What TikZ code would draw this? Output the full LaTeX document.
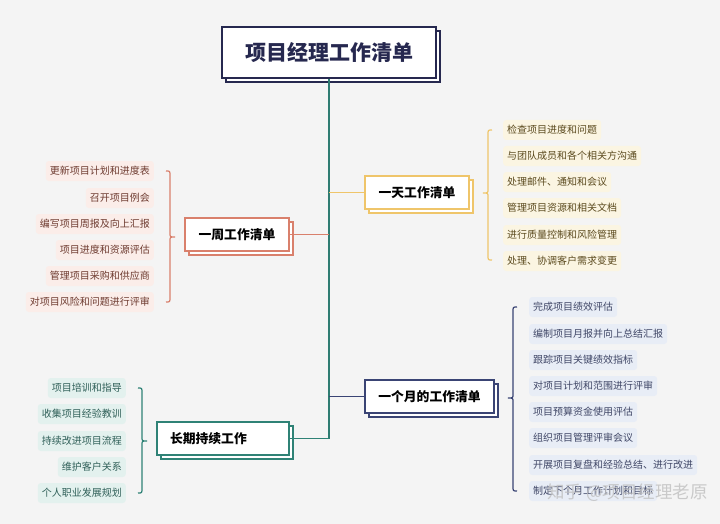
\documentclass[tikz,border=0pt]{standalone}
\usepackage{fontspec}
\setmainfont{Noto Sans CJK SC}
\usetikzlibrary{shadows}
\definecolor{bg}{HTML}{F4F4F4}
\definecolor{titlec}{HTML}{26284F}
\definecolor{trunkc}{HTML}{2F7C72}
\definecolor{goldc}{HTML}{EFC56A}
\definecolor{salmonc}{HTML}{D9806C}
\definecolor{navyc}{HTML}{3A4474}
\definecolor{tealc}{HTML}{2F8276}
\definecolor{dayfill}{HTML}{FBF5E2}
\definecolor{weekfill}{HTML}{FBEDE9}
\definecolor{monthfill}{HTML}{E8EDF6}
\definecolor{longfill}{HTML}{E3F1EE}
\definecolor{daytext}{HTML}{5B4A1E}
\definecolor{weektext}{HTML}{6E3B30}
\definecolor{monthtext}{HTML}{3F4666}
\definecolor{longtext}{HTML}{2F5F58}
\newcommand{\BraceL}[5]{%
 \draw[#1,line width=1.2pt] ({#2+9},#3) .. controls ({#2+5},#3) .. ({#2+5},{#3+5}) -- ({#2+5},{#4-4}) .. controls ({#2+5},#4) .. (#2,#4) .. controls ({#2+5},#4) .. ({#2+5},{#4+4}) -- ({#2+5},{#5-5}) .. controls ({#2+5},#5) .. ({#2+9},#5);}
\newcommand{\BraceR}[5]{%
 \draw[#1,line width=1.2pt] ({#2-9},#3) .. controls ({#2-5},#3) .. ({#2-5},{#3+5}) -- ({#2-5},{#4-4}) .. controls ({#2-5},#4) .. (#2,#4) .. controls ({#2-5},#4) .. ({#2-5},{#4+4}) -- ({#2-5},{#5-5}) .. controls ({#2-5},#5) .. ({#2-9},#5);}
\begin{document}
\begin{tikzpicture}[x=1pt,y=-1pt,
  titlebox/.style={draw=titlec,line width=1.8pt,fill=white,minimum width=214pt,minimum height=51pt,
    font=\fontsize{21}{24}\selectfont\bfseries,text=titlec,inner sep=0pt,
    copy shadow={shadow xshift=4pt,shadow yshift=-4pt}},
  catbox/.style={line width=1.4pt,minimum height=33pt,inner sep=0pt,
    font=\fontsize{12.8}{15}\selectfont\bfseries,text=black,
    copy shadow={shadow xshift=4pt,shadow yshift=-4pt}},
  item/.style={rounded corners=3pt,inner xsep=4pt,inner ysep=0pt,minimum height=20pt,
    font=\fontsize{10}{12}\selectfont},
  dayitem/.style={item,fill=dayfill,text=daytext,anchor=west},
  weekitem/.style={item,fill=weekfill,text=weektext,anchor=east},
  monthitem/.style={item,fill=monthfill,text=monthtext,anchor=west},
  longitem/.style={item,fill=longfill,text=longtext,anchor=east},
  branch/.style={line width=1.2pt}]
\fill[bg] (0,0) rectangle (720,524);
\useasboundingbox (0,0) rectangle (720,524);

% junctions
\coordinate (jday) at (329,192.5);
\coordinate (jweek) at (329,234.5);
\coordinate (jmonth) at (329,396.5);
\coordinate (jlong) at (329,438.5);

% title
\node[titlebox] (title) at (329,52.5) {项目经理工作清单};

% category boxes
\node[catbox,draw=goldc,fill=white,minimum width=104pt] (day) at (417,192.5) {一天工作清单};
\node[catbox,draw=salmonc,fill=white,minimum width=104pt] (week) at (237,234.5) {一周工作清单};
\node[catbox,draw=navyc,fill=white,minimum width=129pt] (month) at (429.5,396.5) {一个月的工作清单};
\node[catbox,draw=tealc,fill=white,minimum width=132pt,text width=106pt,align=left,inner xsep=13pt] (long) at (223,438.5) {长期持续工作};

% connectors
\draw[trunkc,line width=1.5pt] (title.south) -- (jlong);
\draw[branch,goldc] (jday) -- (day.west);
\draw[branch,salmonc] (jweek) -- (week.east);
\draw[branch,navyc] (jmonth) -- (month.west);
\draw[branch,tealc] (jlong) -- (long.east);

% braces
\BraceL{goldc}{483}{130}{193}{260}
\BraceR{salmonc}{175}{171}{237}{302}
\BraceL{navyc}{508}{307}{398}{491}
\BraceR{tealc}{147}{388}{441}{493}

% day items
\node[dayitem] (d1) at (503,130) {检查项目进度和问题};
\node[dayitem] (d2) at (503,156) {与团队成员和各个相关方沟通};
\node[dayitem] (d3) at (503,182) {处理邮件、通知和会议};
\node[dayitem] (d4) at (503,208) {管理项目资源和相关文档};
\node[dayitem] (d5) at (503,235) {进行质量控制和风险管理};
\node[dayitem] (d6) at (503,261) {处理、协调客户需求变更};

% week items
\node[weekitem] (w1) at (154,171) {更新项目计划和进度表};
\node[weekitem] (w2) at (154,198) {召开项目例会};
\node[weekitem] (w3) at (154,224) {编写项目周报及向上汇报};
\node[weekitem] (w4) at (154,250) {项目进度和资源评估};
\node[weekitem] (w5) at (154,276) {管理项目采购和供应商};
\node[weekitem] (w6) at (154,302) {对项目风险和问题进行评审};

% month items
\node[monthitem] (m1) at (529,307) {完成项目绩效评估};
\node[monthitem] (m2) at (529,334) {编制项目月报并向上总结汇报};
\node[monthitem] (m3) at (529,360) {跟踪项目关键绩效指标};
\node[monthitem] (m4) at (529,386) {对项目计划和范围进行评审};
\node[monthitem] (m5) at (529,412) {项目预算资金使用评估};
\node[monthitem] (m6) at (529,438) {组织项目管理评审会议};
\node[monthitem] (m7) at (529,465) {开展项目复盘和经验总结、进行改进};
\node[monthitem] (m8) at (529,491) {制定下个月工作计划和目标};

% long items
\node[longitem] (l1) at (126,388) {项目培训和指导};
\node[longitem] (l2) at (126,414) {收集项目经验教训};
\node[longitem] (l3) at (126,441) {持续改进项目流程};
\node[longitem] (l4) at (126,467) {维护客户关系};
\node[longitem] (l5) at (126,493) {个人职业发展规划};

% watermark
\node[anchor=east,text=gray!50,opacity=0.8,inner sep=0pt,font=\fontsize{17.5}{20}\selectfont] (wm) at (708,493) {知乎 @项目经理老原};
\end{tikzpicture}
\end{document}
